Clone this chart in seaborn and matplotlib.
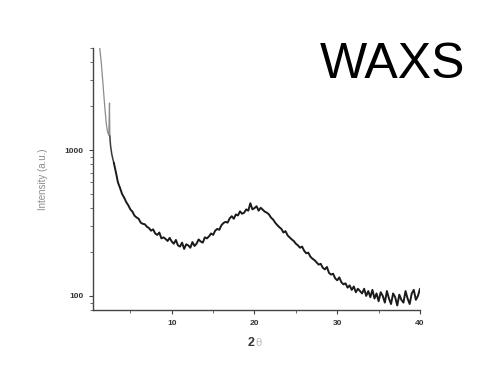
import numpy as np
import pandas as pd
import matplotlib
matplotlib.use("Agg")
import matplotlib.pyplot as plt
from matplotlib.ticker import FixedLocator, NullFormatter
import seaborn as sns

# steep low-angle part (hand read), drawn lighter as in the original
head_two_theta = [1.3, 1.5, 1.7, 1.9, 2.1, 2.25, 2.4, 2.48, 2.52]
head_intensity = [5000, 3900, 2800, 2000, 1500, 1330, 1260, 2100, 1250]

# short dark stretch after the spike
mid_two_theta = [2.52, 2.6, 2.75, 2.9, 3.0]
mid_intensity = [1250, 1080, 940, 860, 820]

# main part, sampled every 0.25 deg from 3.0 to 40.0
main_start, main_step = 3.0, 0.25
main_intensity = [
    820, 705, 600, 550, 500, 472, 440, 418,
    392, 378, 355, 345, 338, 318, 312, 310,
    298, 292, 280, 286, 268, 262, 272, 248,
    252, 246, 238, 250, 236, 228, 242, 222,
    218, 232, 210, 226, 222, 214, 234, 220,
    228, 244, 236, 232, 252, 248, 256, 268,
    262, 280, 288, 284, 305, 316, 322, 318,
    340, 352, 338, 362, 356, 380, 366, 372,
    392, 384, 432, 392, 400, 412, 384, 402,
    390, 378, 372, 362, 344, 334, 318, 306,
    296, 288, 272, 278, 260, 252, 244, 238,
    228, 222, 214, 218, 204, 196, 198, 186,
    180, 176, 170, 164, 166, 156, 152, 158,
    144, 140, 142, 132, 128, 134, 124, 120,
    122, 114, 118, 110, 116, 106, 112, 108,
    104, 112, 100, 108, 98, 110, 96, 104,
    92, 106, 100, 90, 108, 96, 88, 104,
    98, 86, 102, 94, 90, 108, 96, 88,
    104, 110, 94, 100, 112,
]
main_two_theta = [main_start + i * main_step for i in range(len(main_intensity))]

x_ticks = [10, 20, 30, 40]
y_ticks = [100, 1000]

df_head = pd.DataFrame({"two_theta": head_two_theta, "intensity": head_intensity})
df_mid = pd.DataFrame({"two_theta": mid_two_theta, "intensity": mid_intensity})
df_main = pd.DataFrame({"two_theta": main_two_theta, "intensity": main_intensity})

sns.set_style("ticks")
plt.rcParams["font.family"] = ["Liberation Sans", "DejaVu Sans"]

fig = plt.figure(figsize=(4.8, 3.7), dpi=100)
ax = fig.add_axes([0.194, 0.162, 0.681, 0.708])

sns.lineplot(data=df_head, x="two_theta", y="intensity", ax=ax, color="#8c8c8c",
             linewidth=0.9, sort=False, estimator=None)
sns.lineplot(data=df_mid, x="two_theta", y="intensity", ax=ax, color="#3a3a3a",
             linewidth=1.1, sort=False, estimator=None)
sns.lineplot(data=df_main, x="two_theta", y="intensity", ax=ax, color="#1a1a1a",
             linewidth=1.4, sort=False, estimator=None)

ax.set_yscale("log")
ax.set_xlim(0.5, 40)
ax.set_ylim(80, 5000)

ax.xaxis.set_major_locator(FixedLocator(x_ticks))
ax.xaxis.set_minor_locator(FixedLocator([5, 15, 25, 35]))
ax.set_xticklabels([str(t) for t in x_ticks])
ax.yaxis.set_major_locator(FixedLocator(y_ticks))
ax.yaxis.set_minor_locator(FixedLocator([80, 90] + list(range(200, 1000, 100)) + [2000, 3000, 4000, 5000]))
ax.yaxis.set_minor_formatter(NullFormatter())
ax.set_yticklabels([str(t) for t in y_ticks])

for s in ["top", "right"]:
    ax.spines[s].set_visible(False)
for s in ["left", "bottom"]:
    ax.spines[s].set_color("#444444")
    ax.spines[s].set_linewidth(1.0)

ax.tick_params(axis="both", which="major", direction="out", length=3, width=0.8,
               color="#444444", labelsize=6, labelcolor="#333333", pad=4)
ax.tick_params(axis="both", which="minor", direction="out", length=2, width=0.6,
               color="#555555")
for lab in ax.get_xticklabels() + ax.get_yticklabels():
    lab.set_fontweight("bold")

ax.set_xlabel("")
ax.set_ylabel("Intensity (a.u.)", fontsize=7, color="#8a8a8a", labelpad=12)
fig.text(0.531, 0.073, "2", fontsize=9, fontweight="bold", color="#333333",
         ha="right", va="center")
fig.text(0.531, 0.073, "θ", fontsize=8, color="#bbbbbb", ha="left", va="center")

fig.text(0.969, 0.789, "WAXS", fontsize=36, color="black", ha="right", va="baseline")

fig.savefig("out.png", dpi=100)
